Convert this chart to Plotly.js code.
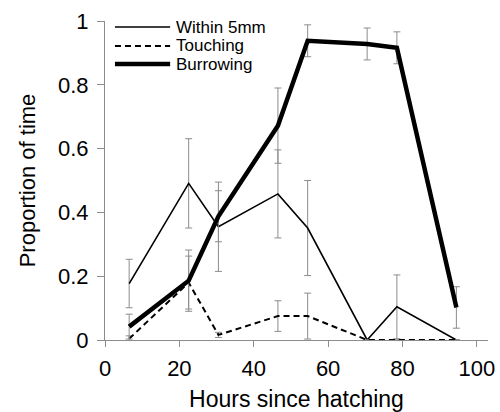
<!DOCTYPE html>
<html>
<head>
<meta charset="utf-8">
<script src="https://cdn.plot.ly/plotly-3.0.1.min.js"></script>
<style>html,body{margin:0;padding:0;background:#fff;}#chart{width:500px;height:412px;}</style>
</head>
<body>
<div id="chart"></div>
<script>
const hours = [6.5, 22.5, 30.5, 46.5, 54.5, 70.5, 78.5, 94.5];
const within5mm = [0.177, 0.491, 0.355, 0.458, 0.351, 0, 0.104, 0];
const within5mmErr = [0.076, 0.14, 0.14, 0.138, 0.149, 0, 0.10, 0];
const touching = [0.004, 0.18, 0.016, 0.075, 0.075, 0, 0, 0];
const touchingErr = [0.009, 0.083, 0.008, 0.048, 0.072, 0, 0, 0];
const burrowing = [0.042, 0.186, 0.388, 0.672, 0.938, 0.928, 0.916, 0.102];
const burrowingErr = [0.039, 0.096, 0.08, 0.118, 0.05, 0.05, 0.05, 0.065];
const seriesNames = ["Within 5mm", "Touching", "Burrowing"];
const xTicks = [0, 20, 40, 60, 80, 100];
const yTicks = [0, 0.2, 0.4, 0.6, 0.8, 1];

const errStyle = {type: "data", visible: true, color: "#8c8c8c", thickness: 1, width: 3.5};
const font = "Liberation Sans, Arial, sans-serif";
const lineStyles = [
  {color: "#000", width: 1.6},
  {color: "#000", width: 2, dash: "6px,4px"},
  {color: "#000", width: 4.5}
];
const values = [within5mm, touching, burrowing];
const errs = [within5mmErr, touchingErr, burrowingErr];

const traces = seriesNames.map((name, i) => ({
  x: hours, y: values[i], name: name, type: "scatter", mode: "lines",
  line: lineStyles[i], showlegend: false,
  error_y: Object.assign({array: errs[i]}, errStyle)
}));

// legend drawn as key lines + text labels
const legendRows = [0.981, 0.922, 0.865];
const shapes = seriesNames.map((name, i) => ({
  type: "line", xref: "paper", yref: "paper",
  x0: 0.026, x1: 0.170, y0: legendRows[i], y1: legendRows[i],
  line: lineStyles[i]
}));
const annotations = seriesNames.map((name, i) => ({
  text: name, xref: "paper", yref: "paper", x: 0.180, y: legendRows[i],
  xanchor: "left", yanchor: "middle", showarrow: false,
  font: {size: 17, family: font, color: "#000"}
}));

const layout = {
  width: 500, height: 412,
  margin: {l: 105, r: 12, t: 21, b: 72},
  paper_bgcolor: "#fff", plot_bgcolor: "#fff",
  font: {family: font, color: "#000"},
  showlegend: false,
  shapes: shapes,
  annotations: annotations,
  xaxis: {range: [0, 103], tickvals: xTicks, ticktext: xTicks.map(String),
          showgrid: false, zeroline: false, showline: true, linecolor: "#8c8c8c", linewidth: 1,
          ticks: "outside", ticklen: 6, tickcolor: "#8c8c8c", tickfont: {size: 22},
          ticklabelstandoff: 3,
          title: {text: "Hours since hatching", font: {size: 23}, standoff: 14}},
  yaxis: {range: [0, 1], tickvals: yTicks, ticktext: yTicks.map(String),
          showgrid: false, zeroline: false, showline: true, linecolor: "#8c8c8c", linewidth: 1,
          ticks: "outside", ticklen: 7, tickcolor: "#8c8c8c", tickfont: {size: 22},
          ticklabelstandoff: 4,
          title: {text: "Proportion of time", font: {size: 22}, standoff: 16}}
};

Plotly.newPlot("chart", traces, layout, {displayModeBar: false, staticPlot: true});
</script>
</body>
</html>
